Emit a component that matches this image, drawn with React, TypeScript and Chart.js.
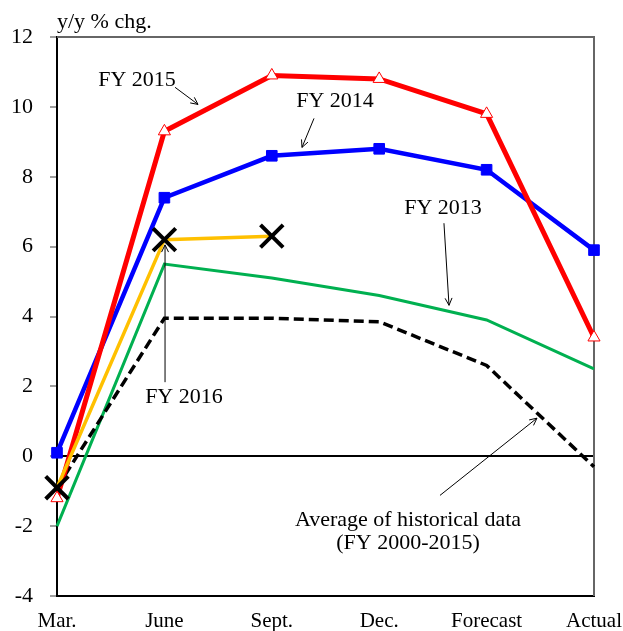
import React, { useEffect, useRef } from 'react';
import { Chart, registerables } from 'chart.js';

Chart.register(...registerables);

const categories = ['Mar.', 'June', 'Sept.', 'Dec.', 'Forecast', 'Actual'];
const fy2015 = [-1.2, 9.3, 10.9, 10.8, 9.8, 3.4];
const fy2014 = [0.1, 7.4, 8.6, 8.8, 8.2, 5.9];
const fy2013 = [-2.0, 5.5, 5.1, 4.6, 3.9, 2.5];
const historicalAvg = [-0.9, 3.95, 3.95, 3.85, 2.6, -0.3];
const fy2016 = [-0.9, 6.2, 6.3, null, null, null];
const yMin = -4;
const yMax = 12;
const yStep = 2;
const yTitle = 'y/y % chg.';

// annotation labels placed in data coordinates (x = category index, y = value)
const labels = [
  { text: 'FY 2015', x: 0.745, y: 10.76 },
  { text: 'FY 2014', x: 2.588, y: 10.16 },
  { text: 'FY 2013', x: 3.594, y: 7.1 },
  { text: 'FY 2016', x: 1.182, y: 1.69 },
  { text: 'Average of historical data', x: 3.268, y: -1.83 },
  { text: '(FY 2000-2015)', x: 3.268, y: -2.49 },
];
const arrows = [
  { x1: 1.099, y1: 10.56, x2: 1.313, y2: 10.07 },
  { x1: 2.393, y1: 9.67, x2: 2.281, y2: 8.84 },
  { x1: 3.603, y1: 6.67, x2: 3.65, y2: 4.32 },
  { x1: 1.006, y1: 2.12, x2: 1.006, y2: 6.05 },
  { x1: 3.566, y1: -1.12, x2: 4.469, y2: 1.09 },
];

const FONT = '"Liberation Serif", "Times New Roman", serif';

const annotationPlugin = {
  id: 'annotations',
  beforeDatasetsDraw(chart: any) {
    const { ctx, chartArea } = chart;
    ctx.save();
    ctx.strokeStyle = '#666666';
    ctx.lineWidth = 2;
    ctx.beginPath();
    ctx.moveTo(chartArea.left, chartArea.top);
    ctx.lineTo(chartArea.right, chartArea.top);
    ctx.lineTo(chartArea.right, chartArea.bottom);
    ctx.stroke();
    ctx.restore();
  },
  afterDraw(chart: any) {
    const { ctx, chartArea } = chart;
    const xs = chart.scales.x;
    const ys = chart.scales.y;
    ctx.save();
    ctx.fillStyle = '#000';
    ctx.font = `22px ${FONT}`;
    ctx.textAlign = 'left';
    ctx.textBaseline = 'middle';
    ctx.fillText(yTitle, chartArea.left, chartArea.top - 15);
    ctx.textAlign = 'center';
    for (const l of labels) {
      ctx.fillText(l.text, xs.getPixelForValue(l.x), ys.getPixelForValue(l.y));
    }
    ctx.strokeStyle = '#000';
    ctx.lineWidth = 1;
    for (const a of arrows) {
      const x1 = xs.getPixelForValue(a.x1);
      const y1 = ys.getPixelForValue(a.y1);
      const x2 = xs.getPixelForValue(a.x2);
      const y2 = ys.getPixelForValue(a.y2);
      const ang = Math.atan2(y2 - y1, x2 - x1);
      const h = 8;
      ctx.beginPath();
      ctx.moveTo(x1, y1);
      ctx.lineTo(x2, y2);
      ctx.moveTo(x2 - h * Math.cos(ang - 0.45), y2 - h * Math.sin(ang - 0.45));
      ctx.lineTo(x2, y2);
      ctx.lineTo(x2 - h * Math.cos(ang + 0.45), y2 - h * Math.sin(ang + 0.45));
      ctx.stroke();
    }
    ctx.restore();
  },
};

export default function App() {
  const ref = useRef<HTMLCanvasElement>(null);
  useEffect(() => {
    document.body.style.margin = '0';
    const canvas = ref.current;
    if (!canvas) return;
    const chart = new Chart(canvas, {
      type: 'line',
      data: {
        labels: categories,
        datasets: [
          {
            label: 'FY 2013',
            data: fy2013,
            borderColor: '#00B050',
            borderWidth: 3,
            pointRadius: 0,
            clip: false,
            order: 5,
          },
          {
            label: 'Average of historical data (FY 2000-2015)',
            data: historicalAvg,
            borderColor: '#000000',
            borderWidth: 3.5,
            borderDash: [10, 5],
            pointRadius: 0,
            clip: false,
            order: 4,
          },
          {
            label: 'FY 2014',
            data: fy2014,
            borderColor: '#0000FF',
            backgroundColor: '#0000FF',
            borderWidth: 4.5,
            pointStyle: 'rect',
            pointRadius: 7.5,
            pointBorderWidth: 1,
            clip: false,
            order: 3,
          },
          {
            label: 'FY 2015',
            data: fy2015,
            borderColor: '#FF0000',
            backgroundColor: '#FFFFFF',
            borderWidth: 5,
            pointStyle: 'triangle',
            pointRadius: 7,
            pointBorderWidth: 1,
            pointBorderColor: '#FF0000',
            pointBackgroundColor: '#FFFFFF',
            clip: false,
            order: 2,
          },
          {
            label: 'FY 2016',
            data: fy2016,
            borderColor: '#FFC000',
            borderWidth: 3.5,
            pointStyle: 'crossRot',
            pointRadius: 16,
            pointBorderWidth: 4,
            pointBorderColor: '#000000',
            clip: false,
            spanGaps: false,
            order: 1,
          },
        ] as any,
      },
      options: {
        animation: false,
        responsive: false,
        maintainAspectRatio: false,
        events: [],
        layout: { padding: { left: 0, right: 29, top: 37, bottom: 0 } },
        plugins: {
          legend: { display: false },
          tooltip: { enabled: false },
          title: { display: false },
        },
        elements: { line: { tension: 0 } },
        scales: {
          x: {
            offset: false,
            grid: { display: true, drawOnChartArea: false, drawTicks: false },
            border: { display: true, color: '#000', width: 2 },
            ticks: {
              color: '#000',
              font: { family: FONT, size: 21 },
              padding: 13,
              maxRotation: 0,
              autoSkip: false,
            },
            afterFit: (s: any) => {
              s.height = 35;
              s.paddingLeft = 0;
              s.paddingRight = 0;
            },
          },
          y: {
            min: yMin,
            max: yMax,
            grid: {
              drawOnChartArea: true,
              drawTicks: true,
              tickLength: 7,
              color: (c: any) => (c.tick && c.tick.value === 0 ? '#000' : 'rgba(0,0,0,0)'),
              lineWidth: 2,
              tickColor: '#7f7f7f',
              tickWidth: 1.5,
            },
            border: { display: true, color: '#000', width: 2 },
            ticks: {
              stepSize: yStep,
              color: '#000',
              font: { family: FONT, size: 22 },
              padding: 17,
            },
            afterFit: (s: any) => {
              s.width = 57;
              s.paddingTop = 0;
              s.paddingBottom = 0;
            },
          },
        },
      },
      plugins: [annotationPlugin],
    });
    return () => chart.destroy();
  }, []);
  return (
    <div style={{ width: 623, height: 631 }}>
      <canvas ref={ref} width={623} height={631} style={{ display: 'block' }} />
    </div>
  );
}
